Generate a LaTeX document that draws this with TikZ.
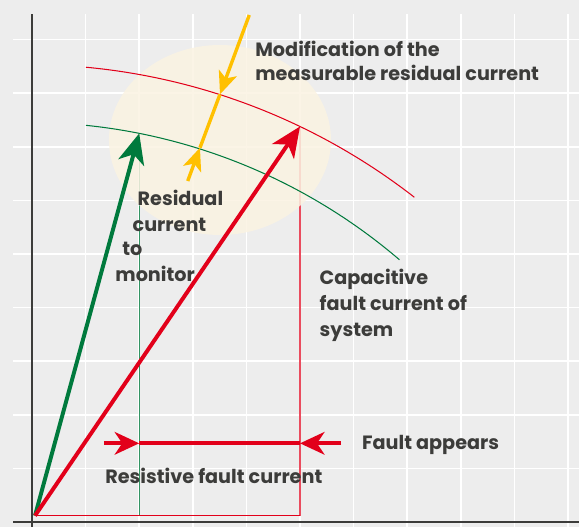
\documentclass[tikz,border=0pt]{standalone}
\usepackage{fontspec}
\newfontfamily\labelfont{Poppins}
\usetikzlibrary{arrows.meta}
\definecolor{bgcol}{RGB}{237,237,237}
\definecolor{axisgray}{RGB}{60,60,58}
\definecolor{textgray}{RGB}{60,60,58}
\definecolor{vred}{RGB}{226,0,26}
\definecolor{vgreen}{RGB}{0,122,61}
\definecolor{vyellow}{RGB}{255,192,0}
\definecolor{cream}{RGB}{251,243,226}
\begin{document}
\begin{tikzpicture}[
    gridline/.style={white, line width=0.8pt},
    axisline/.style={axisgray, line width=0.9pt},
    thinred/.style={vred, line width=0.55pt},
    thingreen/.style={vgreen, line width=0.55pt},
    vecred/.style={vred, line width=2.1pt, -{Stealth[length=16pt,width=14pt,inset=4.5pt]}},
    vecgreen/.style={vgreen, line width=2.1pt, -{Stealth[length=16pt,width=14pt,inset=4.5pt]}},
    yarrow/.style={vyellow, line width=1.8pt, -{Stealth[length=12pt,width=10pt,inset=3pt]}},
    yline/.style={vyellow, line width=1.8pt},
    harrow/.style={vred, line width=2.1pt, -{Stealth[length=13pt,width=12pt,inset=4pt]}},
    hline/.style={vred, line width=2.1pt},
    txt/.style={text=textgray, font=\labelfont\bfseries\fontsize{10.2}{13}\selectfont, inner sep=0pt, anchor=base west}
]
    %Background
    \fill[bgcol] (-0.597,-0.093) rectangle (10.205,9.739);
    \useasboundingbox (-0.597,-0.093) rectangle (10.205,9.739);

    %Grid
    \foreach \x in {1,...,10}
        \draw[gridline] (\x,-0.093) -- (\x,9.472);
    \foreach \y in {1,...,9}
        \draw[gridline] (-0.349,\y) -- (10.205,\y);

    %Axes
    \draw[axisline] (0,-0.093) -- (0,9.472);
    \draw[axisline] (-0.349,0) -- (10.205,0);

    %Points
    \coordinate (o) at (0.056,0.118);
    \coordinate (ctr) at (-0.084,-3.218);
    \coordinate (gtip) at (2.0,7.25);
    \coordinate (rtip) at (5.0,7.379);
    \coordinate (gfoot) at (2.0,0.118);
    \coordinate (rfoot) at (5.0,0.118);

    %Projections
    \draw[thingreen, opacity=0.8] (gtip) -- (gfoot);
    \draw[thinred] (o) -- (rfoot);
    \draw[thinred, opacity=0.7] (rfoot) -- (rtip);

    %Highlight
    \fill[cream, opacity=0.85] (3.507,7.127) ellipse (2.071 and 1.772);

    %Arcs
    \draw[thinred] (ctr) ++(84.67:11.754) arc[start angle=84.67, end angle=52.12, radius=11.754];
    \draw[thingreen] (ctr) ++(84.13:10.675) arc[start angle=84.13, end angle=49.45, radius=10.675];

    %Vectors
    \draw[vecgreen] (o) -- (gtip);
    \draw[vecred] (o) -- (rtip);

    %Modification
    \coordinate (ytop) at (4.054,9.459);
    \coordinate (yred) at (3.507,7.979);
    \coordinate (ygreen) at (3.134,6.983);
    \coordinate (ybot) at (2.905,6.362);
    \draw[yarrow] (ytop) -- (yred);
    \draw[yline] (yred) -- (ygreen);
    \draw[yarrow] (ybot) -- (ygreen);

    %Fault appears
    \coordinate (fleft) at (1.343,1.468);
    \coordinate (fmidl) at (2.0,1.468);
    \coordinate (fmidr) at (5.0,1.468);
    \coordinate (fright) at (5.765,1.468);
    \draw[harrow] (fleft) -- (fmidl);
    \draw[hline] (fmidl) -- (fmidr);
    \draw[harrow] (fright) -- (fmidr);

    %Labels
    \node[txt] (mod1) at (4.16,8.681) {Modification of the};
    \node[txt] (mod2) at (4.16,8.228) {measurable residual current};
    \node[txt] (res1) at (1.965,5.914) {Residual};
    \node[txt] (res2) at (1.871,5.429) {current};
    \node[txt] (res3) at (1.679,4.963) {to};
    \node[txt] (res4) at (1.549,4.483) {monitor};
    \node[txt] (cap1) at (5.36,4.422) {Capacitive};
    \node[txt] (cap2) at (5.36,3.942) {fault current of};
    \node[txt] (cap3) at (5.36,3.470) {system};
    \node[txt] (fault) at (6.151,1.356) {Fault appears};
    \node[txt] (resist) at (1.362,0.722) {Resistive fault current};
\end{tikzpicture}
\end{document}
